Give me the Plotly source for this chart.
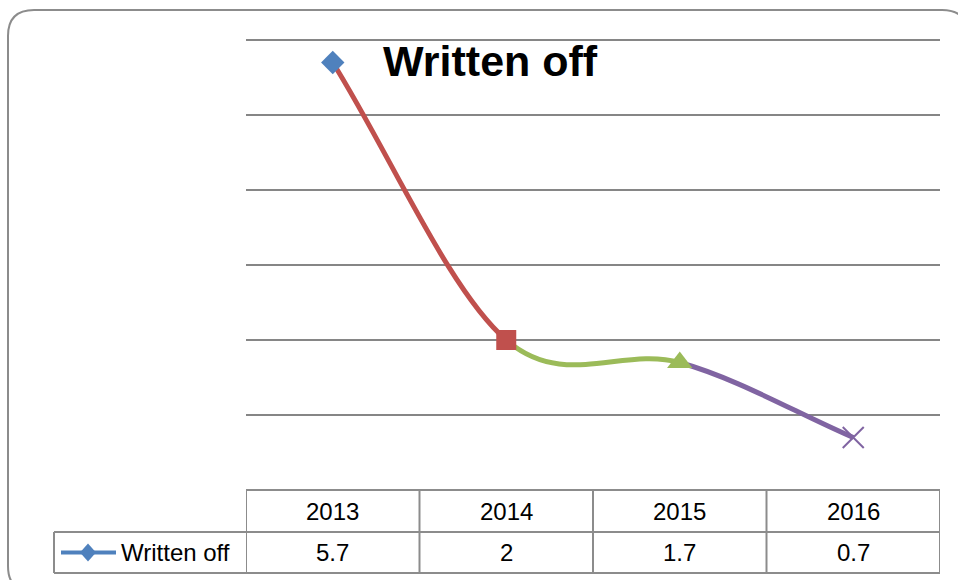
import plotly.graph_objects as go

# ---- data ----
years = ["2013", "2014", "2015", "2016"]
written_off = [5.7, 2, 1.7, 0.7]
series_name = "Written off"
point_colors = ["#4F81BD", "#C0504D", "#9BBB59", "#8064A2"]
point_symbols = ["diamond", "square", "triangle-up", "x-thin"]
point_sizes = [18, 20, 22, 21]

W, H = 958, 580
GRID = "#868686"
FONT = "Liberation Sans"


def px(x):
    return x / W


def py(y):
    return 1 - y / H


# plot area (pixels): value axis 0..Y_TOP spans PY1..PY0
PX0, PX1, PY0, PY1 = 246, 940, 40, 490
Y_TOP = 6
Y_PAD = 0.05  # headroom so the top gridline is not clipped at the edge
py_top = PY1 - (PY1 - PY0) * (Y_TOP + Y_PAD) / Y_TOP
# table rows (pixels)
ROW_TOP, ROW_MID, ROW_BOT = 490, 532, 573
LEFT_CELL = 54

xs = list(range(len(years)))

fig = go.Figure()

# markers, one symbol/colour per point
fig.add_trace(go.Scatter(
    x=xs, y=written_off, mode="markers",
    marker=dict(
        symbol=point_symbols, size=point_sizes, color=point_colors, opacity=1,
        line=dict(color=point_colors, width=[0, 0, 0, 2]),
    ),
    showlegend=False, hoverinfo="skip",
))

shapes = []


# smoothed line: cubic Bezier segments, each segment coloured like its end point
def tangent(i):
    n = len(xs)
    if i == 0:
        return xs[1] - xs[0], written_off[1] - written_off[0]
    if i == n - 1:
        return xs[i] - xs[i - 1], written_off[i] - written_off[i - 1]
    return (xs[i + 1] - xs[i - 1]) / 2, (written_off[i + 1] - written_off[i - 1]) / 2


for i in range(len(xs) - 1):
    t0 = tangent(i)
    t1 = tangent(i + 1)
    x0, y0 = xs[i], written_off[i]
    x1, y1 = xs[i + 1], written_off[i + 1]
    c1 = (x0 + t0[0] / 3, y0 + t0[1] / 3)
    c2 = (x1 - t1[0] / 3, y1 - t1[1] / 3)
    path = f"M {x0},{y0} C {c1[0]},{c1[1]} {c2[0]},{c2[1]} {x1},{y1}"
    shapes.append(dict(type="path", path=path, xref="x", yref="y",
                       line=dict(color=point_colors[i + 1], width=5),
                       layer="between"))

# outer rounded border
r = 26
bx0, by0, bx1, by1 = 8, 10, 968, 592
bpath = (f"M {px(bx0 + r)},{py(by0)} L {px(bx1 - r)},{py(by0)} "
         f"Q {px(bx1)},{py(by0)} {px(bx1)},{py(by0 + r)} "
         f"L {px(bx1)},{py(by1 - r)} Q {px(bx1)},{py(by1)} {px(bx1 - r)},{py(by1)} "
         f"L {px(bx0 + r)},{py(by1)} Q {px(bx0)},{py(by1)} {px(bx0)},{py(by1 - r)} "
         f"L {px(bx0)},{py(by0 + r)} Q {px(bx0)},{py(by0)} {px(bx0 + r)},{py(by0)} Z")
shapes.append(dict(type="path", path=bpath, xref="paper", yref="paper",
                   line=dict(color="#8C8C8C", width=2), layer="below"))

# data table grid
tline = dict(color="#8C8C8C", width=2)
shapes.append(dict(type="line", xref="paper", yref="paper",
                   x0=px(PX0), x1=px(PX1), y0=py(ROW_TOP), y1=py(ROW_TOP), line=tline))
for yy in (ROW_MID, ROW_BOT):
    shapes.append(dict(type="line", xref="paper", yref="paper",
                       x0=px(LEFT_CELL), x1=px(PX1), y0=py(yy), y1=py(yy), line=tline))
for k in range(len(years) + 1):
    shapes.append(dict(type="line", xref="x", yref="paper",
                       x0=k - 0.5, x1=k - 0.5, y0=py(ROW_TOP), y1=py(ROW_BOT), line=tline))
shapes.append(dict(type="line", xref="paper", yref="paper",
                   x0=px(LEFT_CELL), x1=px(LEFT_CELL), y0=py(ROW_MID), y1=py(ROW_BOT), line=tline))

# legend key inside the table
key_y = (ROW_MID + ROW_BOT) / 2
shapes.append(dict(type="line", xref="paper", yref="paper",
                   x0=px(61), x1=px(116), y0=py(key_y), y1=py(key_y),
                   line=dict(color=point_colors[0], width=4)))
kx, dw, dh = 88, 8, 9
shapes.append(dict(type="path", xref="paper", yref="paper",
                   path=(f"M {px(kx)},{py(key_y - dh)} L {px(kx + dw)},{py(key_y)} "
                         f"L {px(kx)},{py(key_y + dh)} L {px(kx - dw)},{py(key_y)} Z"),
                   fillcolor=point_colors[0], line=dict(width=0)))

annotations = []
# chart title
annotations.append(dict(text="<b>Written off</b>", x=px(490), y=py(61),
                        xref="paper", yref="paper", showarrow=False,
                        xanchor="center", yanchor="middle",
                        font=dict(family=FONT, size=43, color="#000000")))
# table contents
cell_font = dict(family=FONT, size=24, color="#000000")
for i, (yr, v) in enumerate(zip(years, written_off)):
    annotations.append(dict(text=yr, x=i, y=py((ROW_TOP + ROW_MID) / 2),
                            xref="x", yref="paper", showarrow=False,
                            xanchor="center", yanchor="middle", font=cell_font))
    annotations.append(dict(text=f"{v:g}", x=i, y=py(key_y),
                            xref="x", yref="paper", showarrow=False,
                            xanchor="center", yanchor="middle", font=cell_font))
annotations.append(dict(text=series_name, x=px(119), y=py(key_y),
                        xref="paper", yref="paper", showarrow=False,
                        xanchor="left", yanchor="middle", font=cell_font))

fig.update_layout(
    width=W, height=H,
    margin=dict(l=0, r=0, t=0, b=0),
    paper_bgcolor="white", plot_bgcolor="white",
    showlegend=False,
    xaxis=dict(domain=[px(PX0), px(PX1)], range=[-0.5, len(years) - 0.5],
               showgrid=False, zeroline=False, showticklabels=False,
               showline=False, ticks=""),
    yaxis=dict(domain=[py(PY1), py(py_top)], range=[0, Y_TOP + Y_PAD], dtick=1,
               showgrid=True, gridcolor=GRID, gridwidth=1.5,
               zeroline=False, showticklabels=False, showline=False, ticks=""),
    shapes=shapes,
    annotations=annotations,
)

fig.write_html("out.html")
